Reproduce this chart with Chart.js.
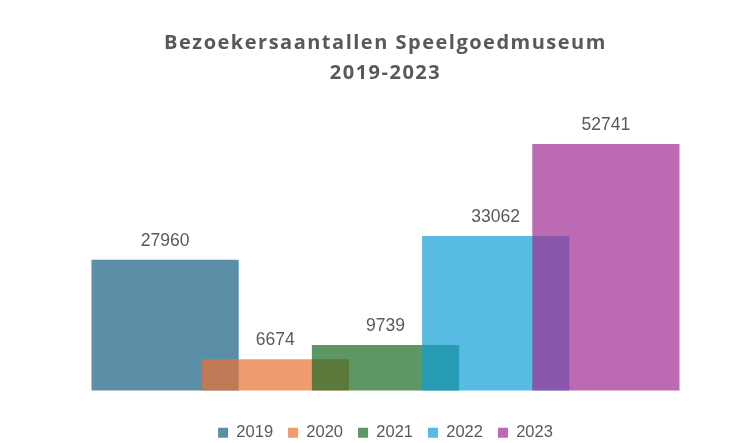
<!DOCTYPE html>
<html>
<head>
<meta charset="utf-8">
<script src="https://cdn.jsdelivr.net/npm/chart.js@4"></script>
<style>
  body { margin: 0; background: #fff; }
  #wrap { width: 737px; height: 443px; }
</style>
</head>
<body>
<div id="wrap"><canvas id="myChart"></canvas></div>
<script>
// chart data
var years = ['2019', '2020', '2021', '2022', '2023'];
var visitors = [27960, 6674, 9739, 33062, 52741];
var barColors = ['rgba(21,96,130,0.7)', 'rgba(233,113,50,0.7)', 'rgba(25,107,36,0.7)', 'rgba(15,158,213,0.7)', 'rgba(160,43,147,0.7)'];
var titleLines = ['Bezoekersaantallen Speelgoedmuseum', '2019-2023'];

//one dataset per year so the legend shows every year
var datasets = years.map(function (year, i) {
    return {
        label: year,
        data: visitors.map(function (v, j) { return j === i ? v : null; }),
        backgroundColor: barColors[i],
        grouped: false,
        barPercentage: 1.336,
        categoryPercentage: 1,
        clip: false,
        //later years are drawn on top
        order: years.length - i
    };
});

//title drawn by hand so it can get some letter spacing
var titlePlugin = {
    id: 'spacedTitle',
    afterDraw: function (chart) {
        var ctx = chart.ctx;
        var cx = (chart.chartArea.left + chart.chartArea.right) / 2;
        ctx.save();
        ctx.font = 'bold 20px "Open Sans"';
        ctx.letterSpacing = '1.5px';
        ctx.fillStyle = '#595959';
        ctx.textAlign = 'center';
        ctx.textBaseline = 'middle';
        titleLines.forEach(function (t, i) {
            ctx.fillText(t, cx, 43 + i * 30);
        });
        ctx.restore();
    }
};

//value labels above the bars
var valuePlugin = {
    id: 'valueLabels',
    afterDatasetsDraw: function (chart) {
        var ctx = chart.ctx;
        ctx.save();
        ctx.font = '17.5px "Liberation Sans"';
        ctx.fillStyle = '#595959';
        ctx.textAlign = 'center';
        ctx.textBaseline = 'middle';
        chart.data.datasets.forEach(function (ds, i) {
            var meta = chart.getDatasetMeta(i);
            meta.data.forEach(function (bar, j) {
                if (ds.data[j] === null) return;
                ctx.fillText(String(ds.data[j]), bar.x, bar.y - 19);
            });
        });
        ctx.restore();
    }
};

var ctx = document.getElementById('myChart').getContext('2d');
var myChart = new Chart(ctx, {
    type: 'bar',
    data: {
        labels: years,
        datasets: datasets
    },
    options: {
        responsive: true,
        maintainAspectRatio: false,
        animation: false,
        layout: {
            padding: { top: 110, left: 110, right: 76, bottom: -8 }
        },
        plugins: {
            title: { display: false },
            tooltip: { enabled: false },
            legend: {
                position: 'bottom',
                labels: {
                    boxWidth: 10,
                    boxHeight: 10,
                    padding: 15,
                    color: '#595959',
                    font: { family: '"Liberation Sans"', size: 16.5 },
                    sort: function (a, b) { return a.datasetIndex - b.datasetIndex; }
                }
            }
        },
        scales: {
            x: {
                display: true,
                grid: { display: false },
                border: { display: false },
                ticks: { display: false },
                afterFit: function (scale) { scale.height = 19; }
            },
            y: {
                display: false,
                min: 0,
                max: 60000
            }
        }
    },
    plugins: [titlePlugin, valuePlugin]
});
</script>
</body>
</html>
